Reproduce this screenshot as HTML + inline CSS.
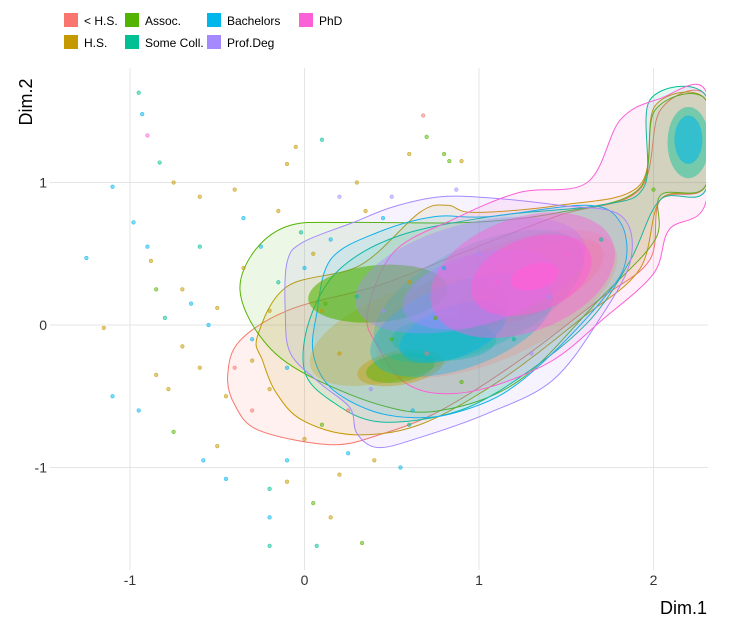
<!DOCTYPE html>
<html><head><meta charset="utf-8"><style>
body{margin:0;background:#fff;font-family:"Liberation Sans",sans-serif}
svg{display:block}
</style></head><body>
<svg id="chart" width="750" height="625" xmlns="http://www.w3.org/2000/svg">
<defs><clipPath id="pclip"><rect x="40" y="60" width="666" height="515"/></clipPath></defs>
<g id="grid"></g>
<g id="contours" clip-path="url(#pclip)"></g>
<g id="points"></g>
<g id="axes"></g>
<g id="legend"></g>
<text x="707" y="614" font-size="18" fill="#000" text-anchor="end">Dim.1</text>
<text transform="translate(32,102) rotate(-90)" font-size="18" fill="#000" text-anchor="middle">Dim.2</text>
</svg>
<script>
const groups = ["< H.S.","H.S.","Assoc.","Some Coll.","Bachelors","Prof.Deg","PhD"];
const colors = ["#F8766D","#C49A00","#53B400","#00C094","#00B6EB","#A58AFF","#FB61D7"];
const xTicks = [-1,0,1,2];
const yTicks = [-1,0,1];
const outerHS0 = [[-0.44,-0.35],[-0.37,-0.11],[-0.08,0.11],[0.43,0.28],[0.95,0.53],[1.46,0.77],[1.92,0.95],[2.04,1.51],[2.30,1.61],[2.30,0.98],[2.04,0.88],[1.98,0.46],[1.69,0.18],[1.23,-0.25],[0.78,-0.60],[0.43,-0.77],[0.15,-0.84],[-0.26,-0.74],[-0.40,-0.56]];
const outerHS = [[-0.27,-0.08],[-0.10,0.27],[0.32,0.42],[0.66,0.79],[0.82,0.84],[0.97,0.79],[1.46,0.84],[1.92,0.98],[2.01,1.54],[2.30,1.58],[2.30,0.98],[2.04,0.88],[1.92,0.39],[1.58,0.04],[1.12,-0.39],[0.66,-0.70],[0.28,-0.77],[-0.01,-0.67],[-0.16,-0.48],[-0.24,-0.25]];
const outerAssoc = [[-0.37,0.25],[-0.28,0.53],[-0.08,0.70],[0.26,0.72],[0.95,0.72],[1.46,0.79],[1.92,0.96],[2.01,1.51],[2.30,1.58],[2.30,0.98],[2.04,0.91],[2.01,0.60],[1.69,0.18],[1.23,-0.39],[0.78,-0.60],[0.43,-0.56],[-0.03,-0.32],[-0.26,-0.07]];
const outerSome = [[0,-0.32],[0.03,0.04],[0.20,0.39],[0.55,0.63],[1.12,0.77],[1.69,0.84],[1.95,0.98],[1.98,1.58],[2.30,1.61],[2.30,0.95],[2.04,0.88],[1.87,0.46],[1.64,0.04],[1.29,-0.32],[0.89,-0.60],[0.43,-0.68],[0.15,-0.53]];
const outerBach = [[0.07,0.08],[0.15,0.46],[0.42,0.65],[0.74,0.76],[1.05,0.76],[1.62,0.84],[1.81,0.72],[1.84,0.44],[1.71,0.18],[1.42,-0.20],[1.14,-0.48],[0.85,-0.62],[0.62,-0.65],[0.38,-0.60],[0.15,-0.44],[0.05,-0.20]];
const outerProf = [[-0.11,0.08],[-0.10,0.44],[-0.01,0.58],[0.28,0.72],[0.51,0.83],[0.78,0.90],[1.08,0.89],[1.46,0.84],[1.81,0.77],[1.87,0.46],[1.69,0.04],[1.42,-0.39],[1.05,-0.62],[0.66,-0.79],[0.42,-0.86],[0.30,-0.76],[0.26,-0.58],[0.09,-0.41],[-0.08,-0.20]];
const outerPhD = [[0.36,0.08],[0.51,0.51],[0.85,0.74],[1.23,0.93],[1.62,1.00],[1.81,1.44],[2.04,1.59],[2.30,1.64],[2.30,0.86],[2.09,0.67],[2.00,0.36],[1.71,0.04],[1.42,-0.25],[1.05,-0.44],[0.76,-0.48],[0.56,-0.39],[0.42,-0.15]];
const outers = [outerHS0,outerHS,outerAssoc,outerSome,outerBach,outerProf,outerPhD];
const innerGroup = [0,0,1,1,2,2,3,3,4,4,5,5,6,6,6,3,4];
const innerCx =    [1.1,1.3,0.6,0.55,0.42,0.55,1.0,0.8,0.9,0.85,0.95,1.0,1.25,1.3,1.32,2.2,2.2];
const innerCy =    [0.15,0.3,-0.05,-0.3,0.22,-0.3,0.2,-0.1,0.0,-0.05,0.35,0.25,0.35,0.35,0.34,1.28,1.3];
const innerRx =    [0.75,0.45,0.6,0.25,0.4,0.2,0.65,0.3,0.55,0.32,0.68,0.45,0.55,0.36,0.14,0.12,0.08];
const innerRy =    [0.38,0.22,0.3,0.12,0.2,0.1,0.36,0.15,0.3,0.18,0.36,0.25,0.4,0.26,0.09,0.25,0.17];
const innerAng =   [25,25,20,10,5,10,25,0,20,20,15,15,20,20,15,0,0];
const innerAlpha = [0.2,0.25,0.25,0.4,0.6,0.45,0.25,0.35,0.35,0.45,0.4,0.45,0.45,0.55,0.8,0.45,0.55];
const ptX = [-0.95,-0.93,-0.9,-0.83,-1.1,-0.75,-0.98,-1.25,-0.9,-0.88,-0.6,-1.15,-0.7,-0.85,-0.65,-0.8,-0.5,-0.55,-0.85,-0.78,-0.75,-0.95,-0.58,-0.5,-0.45,-0.1,-0.2,-0.2,-0.2,0.05,0.15,0.33,0.07,0.2,0.1,-0.05,0.68,0.7,0.8,0.9,0.6,0.83,0.87,-0.1,0.3,-0.4,-0.6,-1.1,-0.45,-0.3,-0.35,-0.25,-0.15,-0.3,0.0,-0.1,0.1,0.25,0.4,0.55,0.6,0.2,0.15,0.35,0.5,0.45,0.0,0.1,0.2,0.3,0.45,0.5,0.6,0.7,0.8,1.0,0.9,1.2,1.4,1.5,1.7,2.0,-0.2,-0.3,-0.4,-0.2,-0.1,-0.02,0.05,0.25,0.38,0.62,0.75,1.1,1.3,-0.6,-0.7,-0.35,-0.15,0.12];
const ptY = [1.63,1.48,1.33,1.14,0.97,1.0,0.72,0.47,0.55,0.45,0.55,-0.02,0.25,0.25,0.15,0.05,0.12,0.0,-0.35,-0.45,-0.75,-0.6,-0.95,-0.85,-1.08,-1.1,-1.15,-1.35,-1.55,-1.25,-1.35,-1.53,-1.55,-1.05,1.3,1.25,1.47,1.32,1.2,1.15,1.2,1.15,0.95,1.13,1.0,0.95,0.9,-0.5,-0.5,-0.6,0.4,0.55,0.3,-0.25,-0.8,-0.95,-0.7,-0.9,-0.95,-1.0,-0.7,0.9,0.6,0.8,0.9,0.75,0.4,0.1,-0.2,0.2,0.1,-0.1,0.3,-0.2,0.4,0.5,-0.4,-0.1,0.2,0.5,0.6,0.95,0.1,-0.1,-0.3,-0.45,-0.3,0.65,0.5,-0.6,-0.45,-0.6,0.05,0.3,-0.2,-0.3,-0.15,0.75,0.8,0.15];
const ptG = [3,4,6,3,4,1,4,4,4,1,3,1,1,2,4,3,1,4,1,1,2,4,4,1,4,1,3,4,3,2,1,2,3,1,3,1,0,2,2,1,1,2,5,1,1,1,1,4,1,0,1,4,3,1,1,4,2,4,1,4,3,5,4,1,5,4,4,1,1,3,5,2,1,0,4,5,2,3,5,6,3,2,1,4,0,1,4,3,1,0,5,4,2,6,5,1,1,4,1,2];

const NS="http://www.w3.org/2000/svg";
const X=v=>304.5+174.5*v, Y=v=>325-142.5*v;
function el(tag,attrs,parent){const e=document.createElementNS(NS,tag);for(const k in attrs)e.setAttribute(k,attrs[k]);parent.appendChild(e);return e;}
function hexA(h,a){const r=parseInt(h.slice(1,3),16),g=parseInt(h.slice(3,5),16),b=parseInt(h.slice(5,7),16);return `rgba(${r},${g},${b},${a})`;}
function smooth(pts){
  const P=pts.map(p=>[X(p[0]),Y(p[1])]);const n=P.length;let d=`M${P[0][0]},${P[0][1]}`;
  for(let i=0;i<n;i++){const p0=P[(i-1+n)%n],p1=P[i],p2=P[(i+1)%n],p3=P[(i+2)%n];
    d+=`C${p1[0]+(p2[0]-p0[0])/6},${p1[1]+(p2[1]-p0[1])/6} ${p2[0]-(p3[0]-p1[0])/6},${p2[1]-(p3[1]-p1[1])/6} ${p2[0]},${p2[1]}`;}
  return d+'Z';}
const grid=document.getElementById('grid');
xTicks.forEach(t=>{const l=el('line',{x1:X(t),x2:X(t),y1:68,y2:570,stroke:'#e5e5e5','stroke-width':1},grid);
});
yTicks.forEach(t=>{const l=el('line',{x1:50,x2:708,y1:Y(t),y2:Y(t),stroke:'#e5e5e5','stroke-width':1},grid);
});
const cg=document.getElementById('contours');
outers.forEach((o,i)=>{const p=el('path',{d:smooth(o),fill:hexA(colors[i],0.1),stroke:colors[i],'stroke-width':1},cg);
});
innerGroup.forEach((g,i)=>{const e=el('ellipse',{cx:0,cy:0,rx:innerRx[i]*174.5,ry:innerRy[i]*142.5,fill:hexA(colors[g],innerAlpha[i]),
transform:`translate(${X(innerCx[i])},${Y(innerCy[i])}) rotate(${-innerAng[i]})`},cg);
});
const pg=document.getElementById('points');
ptX.forEach((x,i)=>{const c=el('circle',{cx:X(x),cy:Y(ptY[i]),r:1.8,fill:hexA(colors[ptG[i]],0.5),stroke:hexA(colors[ptG[i]],0.75),'stroke-width':0.6},pg);
});
const ax=document.getElementById('axes');
xTicks.forEach(t=>{const s=el('text',{x:X(t),y:585,'font-size':14,fill:'#333','text-anchor':'middle'},ax);s.textContent=t;
});
yTicks.forEach(t=>{const s=el('text',{x:47,y:Y(t)+5,'font-size':14,fill:'#333','text-anchor':'end'},ax);s.textContent=t;
});
const lg=document.getElementById('legend');
const lx=[64,125,207,299], ly=[13,35];
const order=[[0,0,0],[1,0,1],[2,1,0],[3,1,1],[4,2,0],[5,2,1],[6,3,0]];
order.forEach(([g,c,r])=>{const k=el('rect',{x:lx[c],y:ly[r],width:14,height:14,fill:colors[g]},lg);

const t=el('text',{x:lx[c]+20,y:ly[r]+12,'font-size':12,fill:'#000'},lg);t.textContent=groups[g];
});
</script>
</body></html>
